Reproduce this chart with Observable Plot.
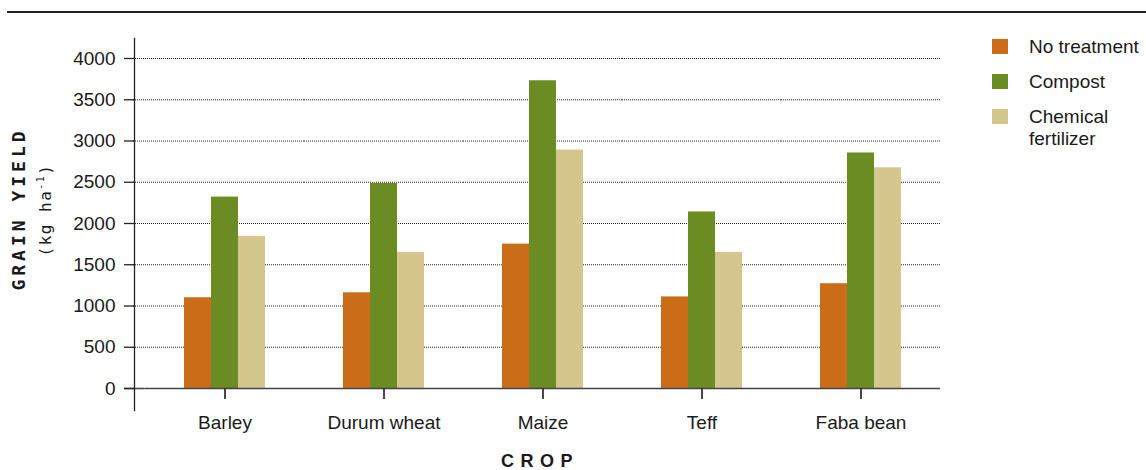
<!DOCTYPE html>
<html>
<head>
<meta charset="utf-8">
<script src="https://cdn.jsdelivr.net/npm/d3@7"></script>
<script src="https://cdn.jsdelivr.net/npm/@observablehq/plot@0.6"></script>
<style>
  html, body { margin: 0; padding: 0; background: #fff; }
  #wrap { position: relative; width: 1146px; height: 470px; font-family: "Liberation Sans", Arial, sans-serif; color: #1a1a1a; }
  #chart { position: absolute; left: 0; top: 0; }
  .abs { position: absolute; white-space: nowrap; }
  .rot { transform: translate(-50%, -50%) rotate(-90deg); }
  #topRule { left: 7px; top: 11px; width: 1139px; height: 1.5px; background: #222; }
  #ytitle1 { left: 18px; top: 209px; font-family: "DejaVu Sans Mono", monospace; font-weight: bold; font-size: 18px; letter-spacing: 4px; }
  #ytitle2 { left: 45px; top: 210px; font-family: "DejaVu Sans Mono", monospace; font-size: 16px; letter-spacing: 1.5px; }
  #ytitle2 sup { font-size: 10px; }
  #xtitle { left: 540px; top: 461px; transform: translate(-50%, -50%); font-weight: bold; font-size: 18px; letter-spacing: 6.5px; }
  .sw { position: absolute; width: 16px; height: 15px; }
  .lt { position: absolute; font-size: 19px; line-height: 22px; }
</style>
</head>
<body>
<div id="wrap">
  <div id="chart"></div>
  <div id="topRule" class="abs"></div>
  <div id="ytitle1" class="abs rot">GRAIN YIELD</div>
  <div id="ytitle2" class="abs rot">(kg ha<sup>-1</sup>)</div>
  <div id="xtitle" class="abs">CROP</div>
  <div id="legend" class="abs" style="left:0;top:0;"></div>
</div>
<script>
const crops = ["Barley", "Durum wheat", "Maize", "Teff", "Faba bean"];
const treatments = ["No treatment", "Compost", "Chemical fertilizer"];
const noTreatment = [1100, 1160, 1750, 1110, 1270];
const compost = [2320, 2485, 3730, 2140, 2855];
const chemical = [1845, 1650, 2890, 1650, 2675];
const yTicks = [0, 500, 1000, 1500, 2000, 2500, 3000, 3500, 4000];
const colors = ["#CB6C19", "#6B8B23", "#D5C68E"];
const legendLabels = [["No treatment"], ["Compost"], ["Chemical", "fertilizer"]];

const series = [noTreatment, compost, chemical];
const rows = crops.flatMap((c, i) => treatments.map((t, j) => ({crop: c, treatment: t, value: series[j][i]})));

const W = 1146, ML = 144, MR = 206;
const bw = (W - ML - MR) / crops.length;

const chart = Plot.plot({
  width: W,
  height: 470,
  marginLeft: ML,
  marginRight: MR,
  marginTop: 58,
  marginBottom: 82,
  style: {fontFamily: "Liberation Sans, Arial, sans-serif", fontSize: "19px", color: "#1a1a1a"},
  fx: {domain: crops, padding: 0, label: null},
  x: {domain: treatments, paddingInner: 0, paddingOuter: 1.343},
  y: {domain: [0, 4000]},
  color: {domain: treatments, range: colors},
  marks: [
    Plot.ruleY(yTicks.slice(1), {stroke: "#000", strokeOpacity: 0.85, strokeDasharray: "1,1"}),
    Plot.ruleY(yTicks.slice(1), {facetAnchor: "left", insetLeft: -12, insetRight: bw, stroke: "#000", strokeOpacity: 0.85, strokeDasharray: "1,1"}),
    Plot.barY(rows, {fx: "crop", x: "treatment", y: "value", fill: "treatment"}),
    Plot.ruleY([0], {stroke: "#444", strokeWidth: 1.6}),
    Plot.ruleY([0], {facetAnchor: "left", insetLeft: -21, insetRight: bw, stroke: "#444", strokeWidth: 1.6}),
    Plot.axisX([treatments[1]], {anchor: "bottom", tickSize: 11, tickFormat: () => "", label: null, stroke: "#333", strokeWidth: 1.8}),
    Plot.frame({anchor: "left", facetAnchor: "left", dx: -11, insetTop: -20, insetBottom: -22, stroke: "#222", strokeWidth: 1.3}),
    Plot.axisY(yTicks, {anchor: "left", dx: -11, tickSize: 10, tickPadding: 9, tickFormat: (d) => String(d), label: null, stroke: "#222", strokeWidth: 1.3}),
    Plot.axisFx({anchor: "bottom", tickSize: 0, tickPadding: 27, label: null})
  ]
});
document.getElementById("chart").appendChild(chart);

const legend = document.getElementById("legend");
const rowTops = [39, 74, 109];
treatments.forEach((t, j) => {
  const sw = document.createElement("div");
  sw.className = "sw";
  sw.style.left = "992px";
  sw.style.top = rowTops[j] + "px";
  sw.style.background = colors[j];
  legend.appendChild(sw);
  const lt = document.createElement("div");
  lt.className = "lt";
  lt.style.left = "1029px";
  lt.style.top = (rowTops[j] - 3.5) + "px";
  lt.innerHTML = legendLabels[j].join("<br>");
  legend.appendChild(lt);
});
</script>
</body>
</html>
